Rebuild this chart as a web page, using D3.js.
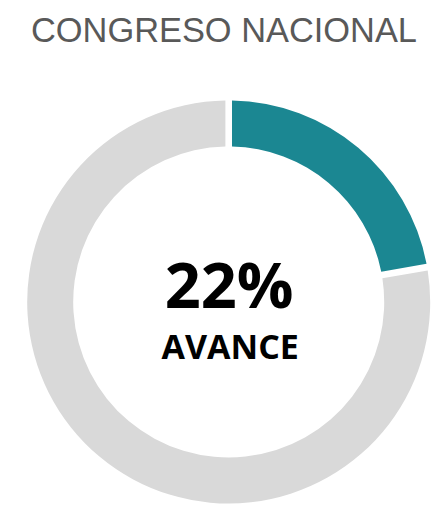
<!DOCTYPE html>
<html>
<head>
<meta charset="utf-8">
<script src="https://cdn.jsdelivr.net/npm/d3@7"></script>
<style>
html,body{margin:0;padding:0;background:#fff;}
svg{display:block;}
</style>
</head>
<body>
<svg id="chart" width="434" height="505"></svg>
<script>
const title = "CONGRESO NACIONAL";
const categories = ["Avance", "Pendiente"];
const values = [22, 78];
const colors = ["#1B8792", "#D9D9D9"];
const centerValue = "22%";
const centerLabel = "AVANCE";

const svg = d3.select("#chart");
const W = 434, H = 505;
const cx = 228.7, cy = 302, outerR = 201.5, innerR = 155.5;

svg.append("text")
  .attr("x", 224).attr("y", 42)
  .attr("text-anchor", "middle")
  .style("font-family", "'Liberation Sans', Arial, sans-serif")
  .style("font-size", "34.4px")
  .style("fill", "#595959")
  .text(title);

const pie = d3.pie().sort(null).value(d => d)
  .padAngle(0.026);
const arc = d3.arc().innerRadius(innerR).outerRadius(outerR);

const color = d3.scaleOrdinal().domain(categories).range(colors);

const g = svg.append("g").attr("transform", `translate(${cx},${cy})`);
g.selectAll("path")
  .data(pie(values))
  .join("path")
  .attr("d", arc)
  .attr("fill", (d, i) => color(categories[i]));

g.append("text")
  .attr("x", 0.5).attr("y", 6)
  .attr("text-anchor", "middle")
  .style("font-family", "'Open Sans', sans-serif")
  .style("font-weight", "700")
  .style("font-size", "63px")
  .style("fill", "#000")
  .text(centerValue);

g.append("text")
  .attr("x", 1.5).attr("y", 56.5)
  .attr("text-anchor", "middle")
  .style("font-family", "'Open Sans', sans-serif")
  .style("font-weight", "700")
  .style("font-size", "34px")
  .style("fill", "#000")
  .text(centerLabel);
</script>
</body>
</html>
